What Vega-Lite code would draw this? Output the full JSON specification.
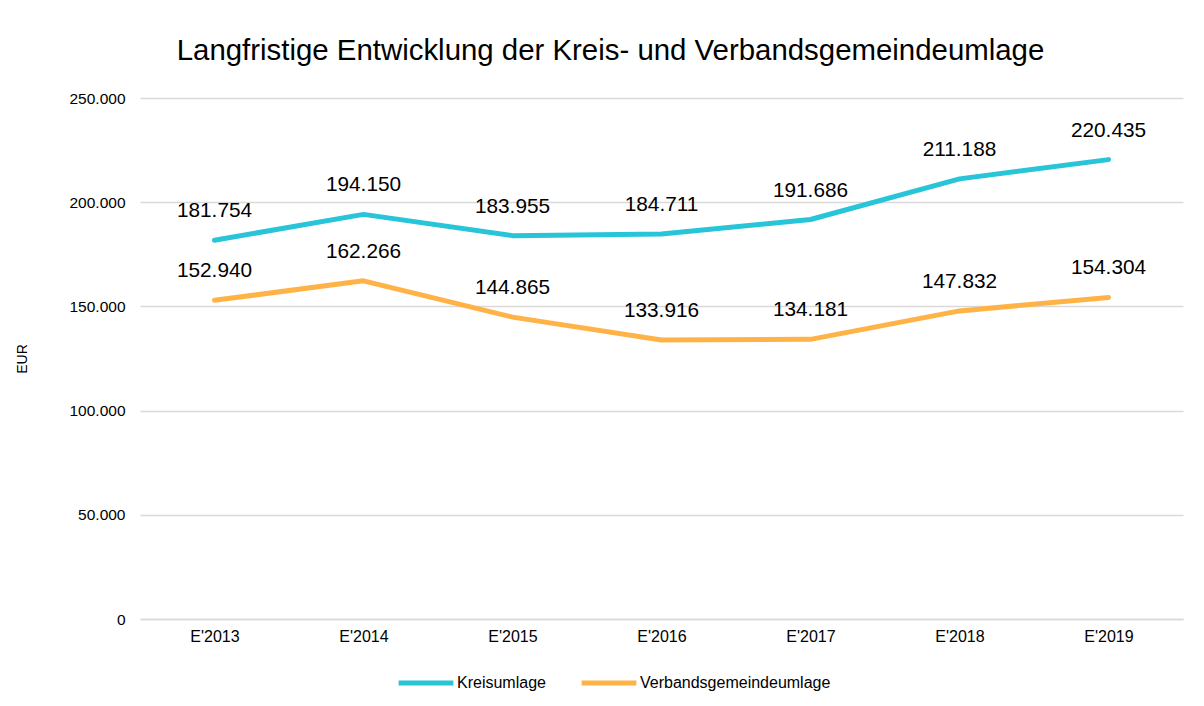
{
  "$schema": "https://vega.github.io/schema/vega-lite/v6.json",
  "autosize": {"type": "none"},
  "width": 1043,
  "height": 521,
  "padding": {"left": 140, "top": 98, "right": 21, "bottom": 87},
  "background": "white",
  "config": {
    "font": "Liberation Sans",
    "view": {"stroke": null},
    "locale": {"number": {"decimal": ",", "thousands": ".", "grouping": [3], "currency": ["", " €"]}}
  },
  "title": {
    "text": "Langfristige Entwicklung der Kreis- und Verbandsgemeindeumlage",
    "fontSize": 29.4,
    "fontWeight": "normal",
    "color": "#000000",
    "anchor": "middle",
    "dx": -51,
    "offset": 25
  },
  "data": {
    "values": [
      {"jahr": "E'2013", "serie": "Kreisumlage", "wert": 181754},
      {"jahr": "E'2014", "serie": "Kreisumlage", "wert": 194150},
      {"jahr": "E'2015", "serie": "Kreisumlage", "wert": 183955},
      {"jahr": "E'2016", "serie": "Kreisumlage", "wert": 184711},
      {"jahr": "E'2017", "serie": "Kreisumlage", "wert": 191686},
      {"jahr": "E'2018", "serie": "Kreisumlage", "wert": 211188},
      {"jahr": "E'2019", "serie": "Kreisumlage", "wert": 220435},
      {"jahr": "E'2013", "serie": "Verbandsgemeindeumlage", "wert": 152940},
      {"jahr": "E'2014", "serie": "Verbandsgemeindeumlage", "wert": 162266},
      {"jahr": "E'2015", "serie": "Verbandsgemeindeumlage", "wert": 144865},
      {"jahr": "E'2016", "serie": "Verbandsgemeindeumlage", "wert": 133916},
      {"jahr": "E'2017", "serie": "Verbandsgemeindeumlage", "wert": 134181},
      {"jahr": "E'2018", "serie": "Verbandsgemeindeumlage", "wert": 147832},
      {"jahr": "E'2019", "serie": "Verbandsgemeindeumlage", "wert": 154304}
    ]
  },
  "encoding": {
    "x": {
      "field": "jahr",
      "type": "ordinal",
      "sort": null,
      "scale": {"type": "point", "padding": 0.5},
      "axis": {
        "title": null,
        "labelAngle": 0,
        "labelFontSize": 16,
        "labelColor": "#000000",
        "labelPadding": 9,
        "ticks": false,
        "domain": true,
        "domainColor": "#d9d9d9",
        "domainWidth": 1.5,
        "grid": false
      }
    },
    "y": {
      "field": "wert",
      "type": "quantitative",
      "scale": {"domain": [0, 250000], "nice": false},
      "axis": {
        "title": "EUR",
        "titleFontSize": 14,
        "titleFontWeight": "normal",
        "titleColor": "#000000",
        "titlePadding": 39,
        "values": [0, 50000, 100000, 150000, 200000, 250000],
        "format": ",d",
        "labelFontSize": 15.5,
        "labelColor": "#000000",
        "labelPadding": 15,
        "ticks": false,
        "domain": false,
        "grid": true,
        "gridColor": "#d9d9d9",
        "gridWidth": 1.5
      }
    },
    "color": {
      "field": "serie",
      "type": "nominal",
      "scale": {"domain": ["Kreisumlage", "Verbandsgemeindeumlage"], "range": ["#28C4D8", "#FFB347"]},
      "legend": {
        "title": null,
        "orient": "none",
        "direction": "horizontal",
        "legendX": 256,
        "legendY": 555,
        "symbolType": "stroke",
        "symbolSize": 3000,
        "symbolStrokeWidth": 5,
        "labelFontSize": 16,
        "labelColor": "#000000",
        "labelOffset": 1,
        "labelLimit": 400,
        "columnPadding": 25
      }
    }
  },
  "layer": [
    {
      "mark": {"type": "line", "strokeWidth": 5, "strokeCap": "round", "strokeJoin": "round"}
    },
    {
      "mark": {"type": "text", "fontSize": 20.8, "dy": -29, "color": "#000000", "baseline": "middle"},
      "encoding": {
        "text": {"field": "wert", "type": "quantitative", "format": ",d"},
        "color": {"value": "#000000"}
      }
    }
  ]
}
